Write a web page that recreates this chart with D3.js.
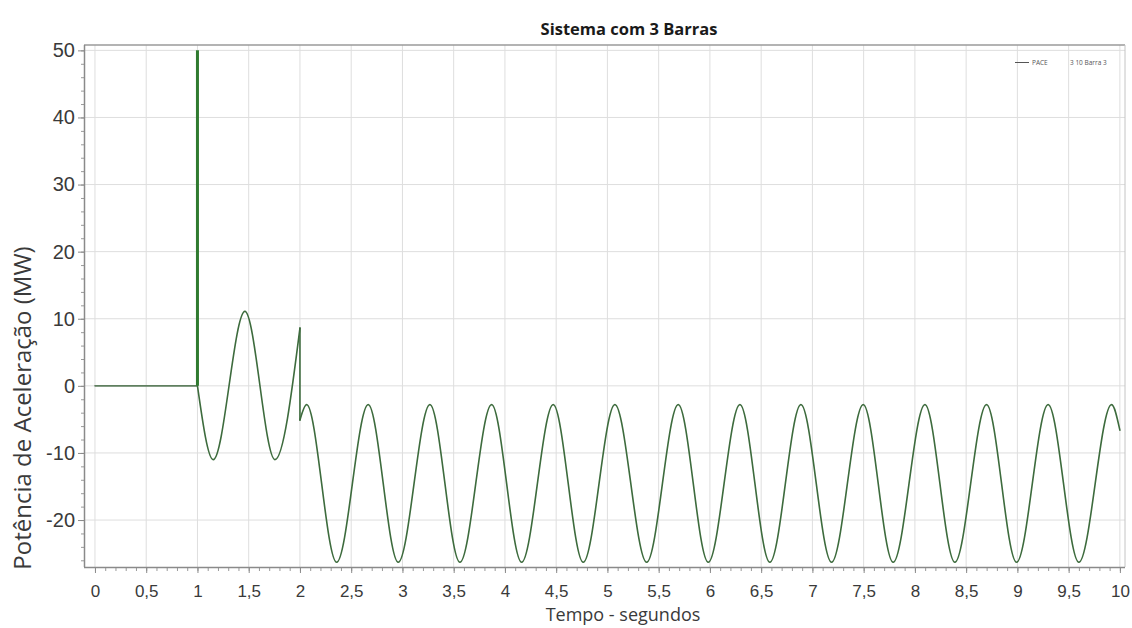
<!DOCTYPE html>
<html>
<head>
<meta charset="utf-8">
<script src="https://cdn.jsdelivr.net/npm/d3@7/dist/d3.min.js"></script>
<style>
  html, body { margin: 0; padding: 0; background: #ffffff; }
  svg { display: block; font-family: "Open Sans", "Noto Sans", "DejaVu Sans", sans-serif; }
</style>
</head>
<body>
<svg id="chart" width="1132" height="628"></svg>
<script>
// Accelerating power of the generator, 3-bus system (MW vs. seconds)

// Steady state before the disturbance
const preFaultTime  = [0, 1];
const preFaultPower = [0, 0];

// Instantaneous spike when the fault is applied
const spikeTime  = [1, 1];
const spikePower = [0, 50];

// During the fault (1 s – 2 s): extremes of the swing
const faultTime  = [1.0, 1.154, 1.463, 1.756, 2.0];
const faultPower = [0, -11.0, 11.1, -11.0, 8.6];

// Step when the fault is cleared at 2 s
const clearTime  = [2.0, 2.0];
const clearPower = [8.6, -5.1];

// After clearing: sustained oscillation peaks and troughs
const postTime = [2.0, 2.065, 2.358, 2.666, 2.959, 3.268, 3.561, 3.870, 4.163, 4.471,
                  4.764, 5.073, 5.383, 5.691, 5.984, 6.293, 6.585, 6.888, 7.187, 7.496,
                  7.788, 8.098, 8.390, 8.699, 8.992, 9.300, 9.600, 9.919, 10.0];
const postPower = [-5.1, -2.8, -26.3, -2.8, -26.3, -2.8, -26.3, -2.8, -26.3, -2.8,
                   -26.3, -2.8, -26.3, -2.8, -26.3, -2.8, -26.3, -2.8, -26.3, -2.8,
                   -26.3, -2.8, -26.3, -2.8, -26.3, -2.8, -26.3, -2.8, -6.6];

// Axis ticks
const xTickValues = [0, 0.5, 1, 1.5, 2, 2.5, 3, 3.5, 4, 4.5, 5, 5.5, 6, 6.5, 7, 7.5, 8, 8.5, 9, 9.5, 10];
const xMinorTicks = d3.range(0, 101).map(i => i / 10);
const yTickValues = [-20, -10, 0, 10, 20, 30, 40, 50];
const yMinorTicks = d3.range(-26, 51, 2);

const legendLabels = ["PACE", "3 10 Barra 3"];

const svg = d3.select("#chart");
const plot = { left: 84, right: 1125, top: 45, bottom: 567 };

const x = d3.scaleLinear().domain([-0.107, 10.05]).range([plot.left, plot.right]);
const y = d3.scaleLinear().domain([-27, 50.8]).range([plot.bottom, plot.top]);

const fmt = d => String(d).replace(".", ",");

// Grid
const grid = svg.append("g");
grid.selectAll("line.vx").data(xTickValues).join("line")
  .attr("x1", d => x(d)).attr("x2", d => x(d))
  .attr("y1", plot.top).attr("y2", plot.bottom)
  .attr("stroke", "#dedede").attr("stroke-width", 1);
grid.selectAll("line.hy").data(yTickValues).join("line")
  .attr("x1", plot.left).attr("x2", plot.right)
  .attr("y1", d => y(d)).attr("y2", d => y(d))
  .attr("stroke", "#dedede").attr("stroke-width", 1);

// Frame
svg.append("line").attr("x1", plot.left).attr("x2", plot.right)
  .attr("y1", plot.top).attr("y2", plot.top).attr("stroke", "#9a9a9a").attr("stroke-width", 1.5);
svg.append("line").attr("x1", plot.right).attr("x2", plot.right)
  .attr("y1", plot.top).attr("y2", plot.bottom).attr("stroke", "#c4c4c4");

// X axis
const xMinor = svg.append("g").attr("transform", `translate(0,${plot.bottom})`)
  .call(d3.axisBottom(x).tickValues(xMinorTicks).tickSize(4).tickFormat(""));
xMinor.select(".domain").remove();
xMinor.selectAll("line").attr("stroke", "#9a9a9a");

const xAxis = svg.append("g").attr("transform", `translate(0,${plot.bottom})`)
  .call(d3.axisBottom(x).tickValues(xTickValues).tickSize(6).tickPadding(12).tickFormat(fmt));
xAxis.select(".domain").attr("d", `M${plot.left},0.5H${plot.right}`).attr("stroke", "#8a8a8a").attr("stroke-width", 1.5);
xAxis.selectAll("line").attr("stroke", "#8a8a8a");
xAxis.selectAll("text").attr("font-size", 17).attr("fill", "#3a3a3a");

// Y axis
const yMinor = svg.append("g").attr("transform", `translate(${plot.left},0)`)
  .call(d3.axisLeft(y).tickValues(yMinorTicks).tickSize(3).tickFormat(""));
yMinor.select(".domain").remove();
yMinor.selectAll("line").attr("stroke", "#9a9a9a");

const yAxis = svg.append("g").attr("transform", `translate(${plot.left},0)`)
  .call(d3.axisLeft(y).tickValues(yTickValues).tickSize(6).tickPadding(3).tickFormat(d => String(d)));
yAxis.select(".domain").attr("d", `M0.5,${plot.top}V${plot.bottom}`).attr("stroke", "#8a8a8a").attr("stroke-width", 1.5);
yAxis.selectAll("line").attr("stroke", "#8a8a8a");
yAxis.selectAll("text").attr("font-size", 20).attr("fill", "#3a3a3a");

// Series: monotone cubic through the swing extremes keeps each crest flat
const toPts = (ts, vs) => ts.map((t, i) => [t, vs[i]]);
const smooth = d3.line().x(d => x(d[0])).y(d => y(d[1])).curve(d3.curveMonotoneX);
const straight = d3.line().x(d => x(d[0])).y(d => y(d[1]));
const seriesColor = "#3d6b3d";

const series = svg.append("g").attr("fill", "none").attr("stroke-linejoin", "round").attr("stroke-linecap", "round");
series.append("path").attr("d", straight(toPts(preFaultTime, preFaultPower)))
  .attr("stroke", "#5f7f5f").attr("stroke-width", 1.6);
series.append("path").attr("d", smooth(toPts(faultTime, faultPower)))
  .attr("stroke", seriesColor).attr("stroke-width", 1.6);
series.append("path").attr("d", straight(toPts(clearTime, clearPower)))
  .attr("stroke", seriesColor).attr("stroke-width", 1.6);
series.append("path").attr("d", smooth(toPts(postTime, postPower)))
  .attr("stroke", seriesColor).attr("stroke-width", 1.6);
series.append("path").attr("d", straight(toPts(spikeTime, spikePower)))
  .attr("stroke", "#2f7a2f").attr("stroke-width", 3).attr("stroke-linecap", "butt");

// Legend
const legend = svg.append("g").attr("font-size", 6.5).attr("fill", "#555");
legend.append("line").attr("x1", 1015).attr("x2", 1029).attr("y1", 62.5).attr("y2", 62.5)
  .attr("stroke", "#555").attr("stroke-width", 1);
legend.append("text").attr("x", 1032).attr("y", 65).text(legendLabels[0]);
legend.append("text").attr("x", 1070).attr("y", 65).text(legendLabels[1]);

// Titles
svg.append("text").attr("x", 629).attr("y", 35).attr("text-anchor", "middle")
  .attr("font-size", 16.5).attr("font-weight", "bold").attr("fill", "#1a1a1a")
  .text("Sistema com 3 Barras");
svg.append("text").attr("x", 623).attr("y", 621).attr("text-anchor", "middle")
  .attr("font-size", 18).attr("fill", "#3a3a3a")
  .text("Tempo - segundos");
svg.append("text").attr("transform", "translate(31,408) rotate(-90)").attr("text-anchor", "middle")
  .attr("font-size", 24).attr("fill", "#3a3a3a")
  .text("Potência de Aceleração (MW)");
</script>
</body>
</html>
